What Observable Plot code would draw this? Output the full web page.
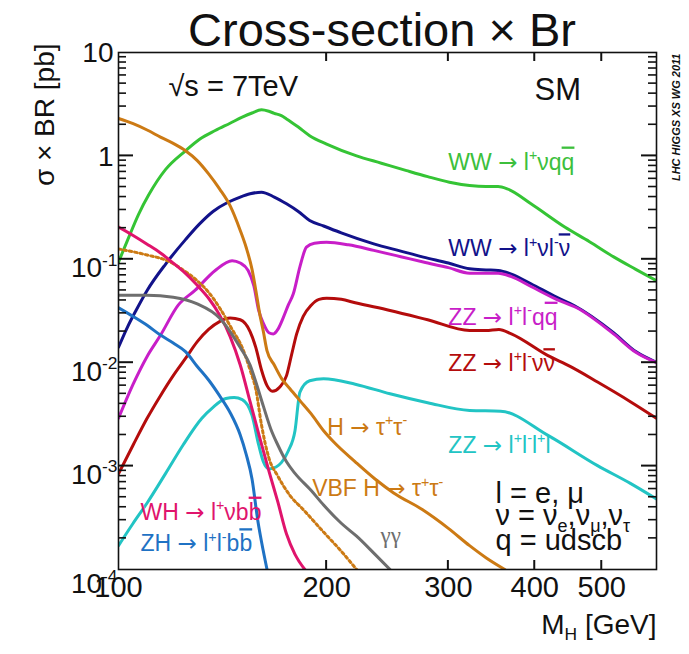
<!DOCTYPE html>
<html><head><meta charset="utf-8">
<script src="https://cdn.jsdelivr.net/npm/d3@7"></script>
<script src="https://cdn.jsdelivr.net/npm/@observablehq/plot@0.6"></script>
<style>
body{margin:0;background:#fff;overflow:hidden;}
#wrap{position:relative;width:689px;height:654px;font-family:"Liberation Sans",Arial,sans-serif;}
#title{position:absolute;left:132px;width:500px;top:6px;text-align:center;font-size:47px;line-height:47px;white-space:nowrap;color:#111;}
</style></head>
<body><div id="wrap"><div id="title">Cross-section × Br</div></div>
<script>
// ---- data (Higgs mass in GeV, cross-section × BR in pb) ----
const massWWqq=[100,103.5,107,110.6,117,125,131,138,145,151,156,161,165,168,172,175,182,189,200,221,240,261,280,301,322,340,354,365,395,442,480,521,560,600];
const xsWWqq=[0.094,0.164,0.275,0.42,0.74,1.12,1.45,1.76,2.07,2.37,2.6,2.79,2.7,2.58,2.45,2.28,1.9,1.57,1.3,1.0,0.85,0.72,0.63,0.557,0.517,0.505,0.505,0.48,0.344,0.205,0.148,0.105,0.08,0.062];

const massWWlvlv=[100,103,106,110,117,125,131,137,144,150,155,161,168,175,182,189,198,210,234,256,276,300,322,340,354,370,395,430,456,520,560,600];
const xsWWlvlv=[0.0141,0.022,0.032,0.05,0.09,0.155,0.22,0.29,0.356,0.4,0.43,0.446,0.4,0.344,0.29,0.237,0.21,0.18,0.141,0.12,0.105,0.092,0.081,0.079,0.078,0.072,0.058,0.043,0.0357,0.0195,0.0128,0.0101];

const massZZllqq=[100,105,110,115,122,129,138,146,150,154,157,159.5,162,165,167.5,170,173,176,179,183,187,192,200,215,234,256,276,300,322,340,354,370,395,430,460,520,560,600];
const xsZZllqq=[0.0029,0.0062,0.0115,0.0184,0.036,0.05,0.078,0.097,0.092,0.078,0.055,0.032,0.024,0.0195,0.019,0.021,0.027,0.036,0.0464,0.085,0.131,0.143,0.146,0.138,0.122,0.106,0.094,0.083,0.0734,0.0734,0.0734,0.068,0.0546,0.041,0.034,0.019,0.0126,0.0100];

const massZZllvv=[100,105,110,115,120,125,130,135,140,145,150,155,158,161,164,167,171,175,178,181,185,190,195,200,210,220,247,280,322,340,355,370,418,450,493,550,600];
const xsZZllvv=[0.00084,0.0016,0.0029,0.0048,0.0075,0.011,0.016,0.021,0.025,0.027,0.026,0.02,0.014,0.0085,0.006,0.0053,0.0058,0.0075,0.012,0.019,0.028,0.036,0.041,0.042,0.041,0.038,0.032,0.026,0.0205,0.0205,0.021,0.019,0.0117,0.0092,0.0065,0.0042,0.0029];

const massZZ4l=[100,105,110,117,124,132,137,143,147,151,156,159.5,162,165,169,172,176,180,183,189,198,220,247,280,322,357,418,493,550,600];
const xsZZ4l=[0.00017,0.00028,0.00044,0.00085,0.0016,0.0029,0.0037,0.0045,0.0046,0.0044,0.0031,0.0016,0.0011,0.00094,0.00098,0.00108,0.0014,0.0022,0.0052,0.0067,0.007,0.0062,0.005,0.0041,0.00345,0.0034,0.00198,0.00101,0.00068,0.00048];

const massTauTau=[100,105,110,115,120,125,130,135,140,145,150,153,156,158,160,162,164,168,172,177,183,190,198,205,220,235,250,275,300,322,340,362];
const xsTauTau=[2.3,2.05,1.78,1.52,1.32,1.12,0.9,0.67,0.48,0.33,0.19,0.13,0.08,0.05,0.03,0.02,0.013,0.0095,0.0071,0.0056,0.0043,0.0032,0.0022,0.0017,0.0011,0.00075,0.00055,0.00038,0.00025,0.00017,0.00013,0.0001];

const massVBFTauTau=[100,110,118,125,130,135,140,146,151,155,158,161,165,170,177,185,198,210,221];
const xsVBFTauTau=[0.126,0.11,0.096,0.076,0.062,0.048,0.034,0.021,0.014,0.0085,0.0055,0.0025,0.0012,0.0008,0.00052,0.00038,0.00023,0.00015,0.0001];

const massWHlvbb=[100,105,110,115,120,125,130,135,140,145,150,155,160,165,170,175,180,186];
const xsWHlvbb=[0.205,0.17,0.14,0.115,0.092,0.073,0.056,0.042,0.029,0.018,0.0095,0.0042,0.0019,0.0009,0.00045,0.00022,0.00014,0.0001];

const massZHllbb=[100,105,110,115,120,125,130,135,140,145,150,153,156,159,162,164];
const xsZHllbb=[0.034,0.028,0.023,0.0185,0.0155,0.0128,0.0092,0.0068,0.0048,0.0033,0.002,0.0013,0.00075,0.0003,0.00015,0.0001];

const massGamGam=[100,110,120,130,140,145,150,155,158,162,166,170,175,180,190,198,210,221,235,247];
const xsGamGam=[0.045,0.045,0.043,0.037,0.027,0.02,0.014,0.0095,0.0065,0.0038,0.0023,0.0016,0.0011,0.00085,0.00058,0.00042,0.00028,0.00021,0.00014,0.0001];

// axis ticks and labels
const yTickValues=[10,1,0.1,0.01,0.001,0.0001];
const yTickLabels=["10","1","10^{-1}","10^{-2}","10^{-3}","10^{-4}"];
const xTickValues=[100,200,300,400,500];
const xTickLabels=["100","200","300","400","500"];

// annotation texts and their anchor positions (GeV, pb)
const annText=["WW → l^{+}νq~{q}","WW → l^{+}νl^{-}~{ν}","ZZ → l^{+}l^{-}q~{q}","ZZ → l^{+}l^{-}ν~{ν}","ZZ → l^{+}l^{-}l^{+}l^{-}","H → τ^{+}τ^{-}","VBF H → τ^{+}τ^{-}","γγ","WH → l^{+}νb~{b}","ZH → l^{+}l^{-}b~{b}"];
const annMass=[300,300,300,300,300,200.4,190.6,239.3,107.6,107.6];
const annXS=[0.87,0.126,0.0275,0.00976,0.00158,0.00238,0.000603,0.000213,0.000358,0.000177];
const noteText=["√s = 7TeV","SM","l = e, μ","ν = ν_{e},ν_{μ},ν_{τ}","q = udscb"];
const noteMass=[118.1,399.7,351,351,351];
const noteXS=[4.62,4.29,0.00054,0.000333,0.00019];

// ---- styles ----
const series=[
  {m:massWWqq,s:xsWWqq,color:"#35c435"},
  {m:massWWlvlv,s:xsWWlvlv,color:"#12128a"},
  {m:massZZllqq,s:xsZZllqq,color:"#c81ec8"},
  {m:massZZllvv,s:xsZZllvv,color:"#b40c0c"},
  {m:massZZ4l,s:xsZZ4l,color:"#22c4c4"},
  {m:massTauTau,s:xsTauTau,color:"#cc7a14"},
  {m:massVBFTauTau,s:xsVBFTauTau,color:"#cc7a14",dash:"2.5,3"},
  {m:massWHlvbb,s:xsWHlvbb,color:"#e0146c"},
  {m:massZHllbb,s:xsZHllbb,color:"#1f72c4"},
  {m:massGamGam,s:xsGamGam,color:"#6e6e6e"}
];
const annColors=["#3cbf3c","#12128a","#c81ec8","#b40c0c","#22c4c4","#cc7a14","#cc7a14","#6e6e6e","#e0146c","#1f72c4"];

const yMinor=[];
for(let k=-4;k<=0;k++) for(let j=2;j<=9;j++) yMinor.push(j*Math.pow(10,k));
const yMajorInner=yTickValues.slice(1,-1);
const xInner=xTickValues.slice(1);

const lineMarks=series.map(sr=>Plot.line(sr.m.map((m,i)=>({M:m,XS:sr.s[i]})),{x:"M",y:"XS",stroke:sr.color,strokeWidth:3,strokeDasharray:sr.dash,curve:"monotone-x",clip:true}));

const annData=annText.map((t,i)=>({t,M:annMass[i],XS:annXS[i],c:annColors[i]}));
const noteData=noteText.map((t,i)=>({t,M:noteMass[i],XS:noteXS[i]}));

const plot=Plot.plot({
  width:689,height:654,
  marginLeft:118,marginRight:33,marginTop:52,marginBottom:85,
  x:{type:"log",domain:[100,600],axis:null},
  y:{type:"log",domain:[1e-4,10],axis:null},
  style:{fontFamily:"'Liberation Sans', Arial, sans-serif",background:"white",color:"#111",overflow:"visible"},
  marks:[
    ...lineMarks,
    Plot.frame({stroke:"#111",strokeWidth:1.6}),
    // y tick labels
    Plot.text(yTickValues.slice(0,2),{y:d=>d,text:(d,i)=>yTickLabels[i],frameAnchor:"left",textAnchor:"end",dx:-5,dy:1,fontSize:28}),
    Plot.text(yTickValues.slice(2,5),{y:d=>d,text:(d,i)=>yTickLabels[i+2],frameAnchor:"left",textAnchor:"end",dx:-1,dy:9,fontSize:28}),
    Plot.text(yTickValues.slice(5),{y:d=>d,text:(d,i)=>yTickLabels[i+5],frameAnchor:"left",textAnchor:"end",dx:-1,dy:15,fontSize:28}),
    // x tick labels
    Plot.text(xTickValues,{x:d=>d,text:(d,i)=>xTickLabels[i],frameAnchor:"bottom",lineAnchor:"top",dy:7,fontSize:29}),
    // axis titles
    Plot.text(["σ × BR [pb]"],{frameAnchor:"top-left",rotate:-90,textAnchor:"end",dx:-84,dy:-9,fontSize:28}),
    Plot.text(["M_{H} [GeV]"],{frameAnchor:"bottom-right",textAnchor:"end",dy:64,fontSize:28}),
    Plot.text(["LHC HIGGS XS WG 2011"],{frameAnchor:"top-right",rotate:-90,textAnchor:"end",dx:16,dy:1,fontSize:11,fontWeight:"bold",fontStyle:"italic"}),
    // curve labels
    Plot.text(annData.filter(d=>d.t!=="γγ"),{x:"M",y:"XS",text:"t",fill:"c",textAnchor:"start",fontSize:23}),
    Plot.text(annData.filter(d=>d.t==="γγ"),{x:"M",y:"XS",text:"t",fill:"c",textAnchor:"start",fontSize:23,fontFamily:"'Liberation Serif', serif"}),
    // notes
    Plot.text(noteData.slice(0,1),{x:"M",y:"XS",text:"t",textAnchor:"start",fontSize:29}),
    Plot.text(noteData.slice(1,2),{x:"M",y:"XS",text:"t",textAnchor:"start",fontSize:31}),
    Plot.text(noteData.slice(2),{x:"M",y:"XS",text:"t",textAnchor:"start",fontSize:29})
  ]
});
document.getElementById("wrap").insertBefore(plot,document.getElementById("title"));

// ROOT-style inner ticks, positioned through the plot's own scales
(function(){
  const svg = plot.tagName.toLowerCase()==="svg" ? plot : plot.querySelector("svg");
  const sx=plot.scale("x"), sy=plot.scale("y");
  const xL=sx.apply(100), xR=sx.apply(600), yT=sy.apply(10), yB=sy.apply(1e-4);
  const NS="http://www.w3.org/2000/svg";
  const g=document.createElementNS(NS,"g");
  g.setAttribute("aria-label","inner ticks");
  svg.appendChild(g);
  const seg=(x1,y1,x2,y2,w)=>{
    const p=document.createElementNS(NS,"path");
    p.setAttribute("d",`M${x1},${y1}L${x2},${y2}`);
    p.setAttribute("stroke","#111");
    p.setAttribute("stroke-width",w);
    p.setAttribute("fill","none");
    g.appendChild(p);
  };
  yMajorInner.forEach(v=>{const y=sy.apply(v);seg(xL,y,xL+15,y,2);seg(xR,y,xR-15,y,2);});
  yMinor.forEach(v=>{const y=sy.apply(v);seg(xL,y,xL+8,y,1.6);seg(xR,y,xR-8,y,1.6);});
  xInner.forEach(v=>{const x=sx.apply(v);seg(x,yT,x,yT+9,2);seg(x,yB,x,yB-9,2);});
})();

// rich text: ^{} superscript, _{} subscript, ~{} overline, long arrow
function richify(root){
  const NS="http://www.w3.org/2000/svg";
  root.querySelectorAll("text").forEach(t=>{
    const s=t.textContent;
    if(!/[\^_~]\{|→/.test(s)) return;
    const fs=parseFloat(getComputedStyle(t).fontSize)||16;
    while(t.firstChild) t.removeChild(t.firstChild);
    const re=/([\^_~])\{([^}]*)\}|(→)/g;
    let last=0,m,shift=0;
    const add=(txt,kind)=>{
      if(!txt) return;
      const ts=document.createElementNS(NS,"tspan");
      let target=0;
      if(kind==="^") target=-0.42*fs;
      else if(kind==="_") target=0.24*fs;
      const d=target-shift;
      if(d!==0) ts.setAttribute("dy",d.toFixed(2));
      shift=target;
      if(kind==="^"||kind==="_") ts.setAttribute("font-size",(0.62*fs).toFixed(1));
      if(kind==="~") ts.setAttribute("text-decoration","overline");
      if(kind==="a") ts.setAttribute("font-family","'DejaVu Sans', sans-serif");
      ts.textContent=txt;
      t.appendChild(ts);
    };
    while((m=re.exec(s))){
      add(s.slice(last,m.index),"");
      if(m[3]) add(m[3],"a"); else add(m[2],m[1]);
      last=re.lastIndex;
    }
    add(s.slice(last),"");
  });
}
richify(plot);
</script>
</body></html>
